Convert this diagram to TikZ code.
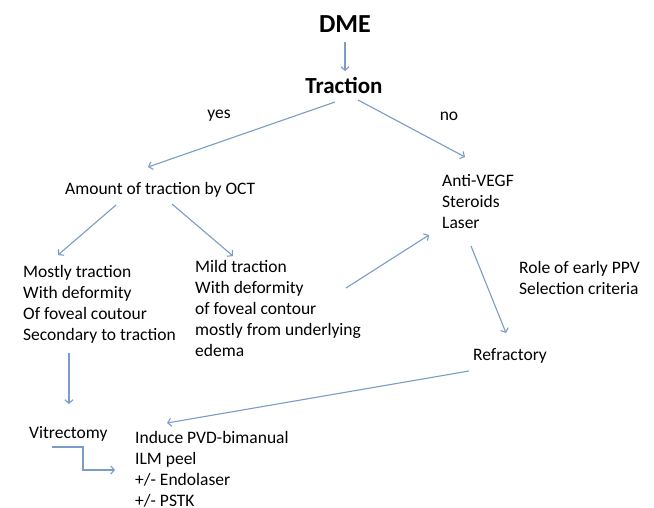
\documentclass[tikz,border=0pt]{standalone}
\usepackage{fontspec}
\setmainfont{Carlito}
\usetikzlibrary{arrows.meta,calc}
\definecolor{arrowblue}{RGB}{122,156,198}
\begin{document}
\begin{tikzpicture}[x=1pt,y=1pt,
  txt/.style={inner sep=0pt,font=\fontsize{17.5}{21}\selectfont,align=left},
  ttl/.style={inner sep=0pt,font=\fontsize{26}{30}\selectfont\bfseries},
  sub/.style={inner sep=0pt,font=\fontsize{23}{27}\selectfont\bfseries},
  arr/.style={draw=arrowblue,line width=1.1pt,-{Straight Barb[length=3.5pt,width=8pt]}}]
\useasboundingbox (0,0) rectangle (654,-507);
\fill[white] (0,0) rectangle (654,-507);
\clip (0,0) rectangle (654,-507);
\node[ttl] (dme) at (345,-24) {DME};
\node[sub] (trac) at (344,-85) {Traction};
\node[txt] (yes) at (219,-116) {yes};
\node[txt] (no) at (449,-116) {no};
\node[txt,anchor=west] (amount) at (65,-190) {Amount of traction by OCT};
\node[txt,anchor=north west] (anti) at (442,-174) {Anti-VEGF\\Steroids\\Laser};
\node[txt,anchor=north west] (mostly) at (23,-265) {Mostly traction\\With deformity\\Of foveal coutour\\Secondary to traction};
\node[txt,anchor=north west] (mild) at (195,-260) {Mild traction\\With deformity\\of foveal contour\\mostly from underlying\\edema};
\node[txt,anchor=north west] (role) at (519,-261) {Role of early PPV\\Selection criteria};
\node[txt,anchor=west] (refr) at (473,-356) {Refractory};
\node[txt,anchor=west] (vitr) at (29,-434) {Vitrectomy};
\node[txt,anchor=north west] (induce) at (135,-431) {Induce PVD-bimanual\\ILM peel\\+/- Endolaser\\+/- PSTK};
% connectors
\draw[arr] ($(dme.center)+(0,-18)$) -- ($(trac.center)+(1,14)$);
\draw[arr] ($(trac.center)+(-9,-17)$) -- ($(amount.west)+(83,23)$);
\draw[arr] ($(trac.center)+(14,-15)$) -- ($(anti.north west)+(23,17)$);
\draw[arr] ($(amount.west)+(51,-15)$) -- ($(mostly.north west)+(35,10)$);
\draw[arr] ($(amount.west)+(107,-14)$) -- ($(mild.north west)+(38,4)$);
\draw[arr] ($(mild.north west)+(151,-28)$) -- ($(anti.north west)+(-13,-61)$);
\draw[arr] ($(anti.north west)+(29,-72)$) -- ($(refr.west)+(33,23)$);
\draw[arr] ($(refr.west)+(-4,-15)$) -- ($(induce.north west)+(32,8)$);
\draw[arr] ($(mostly.north west)+(46,-88)$) -- ($(vitr.west)+(40,30)$);
\draw[arr] ($(vitr.west)+(23,-13)$) -- ++(31,0) |- ($(induce.north west)+(-20,-39)$);
\end{tikzpicture}
\end{document}
